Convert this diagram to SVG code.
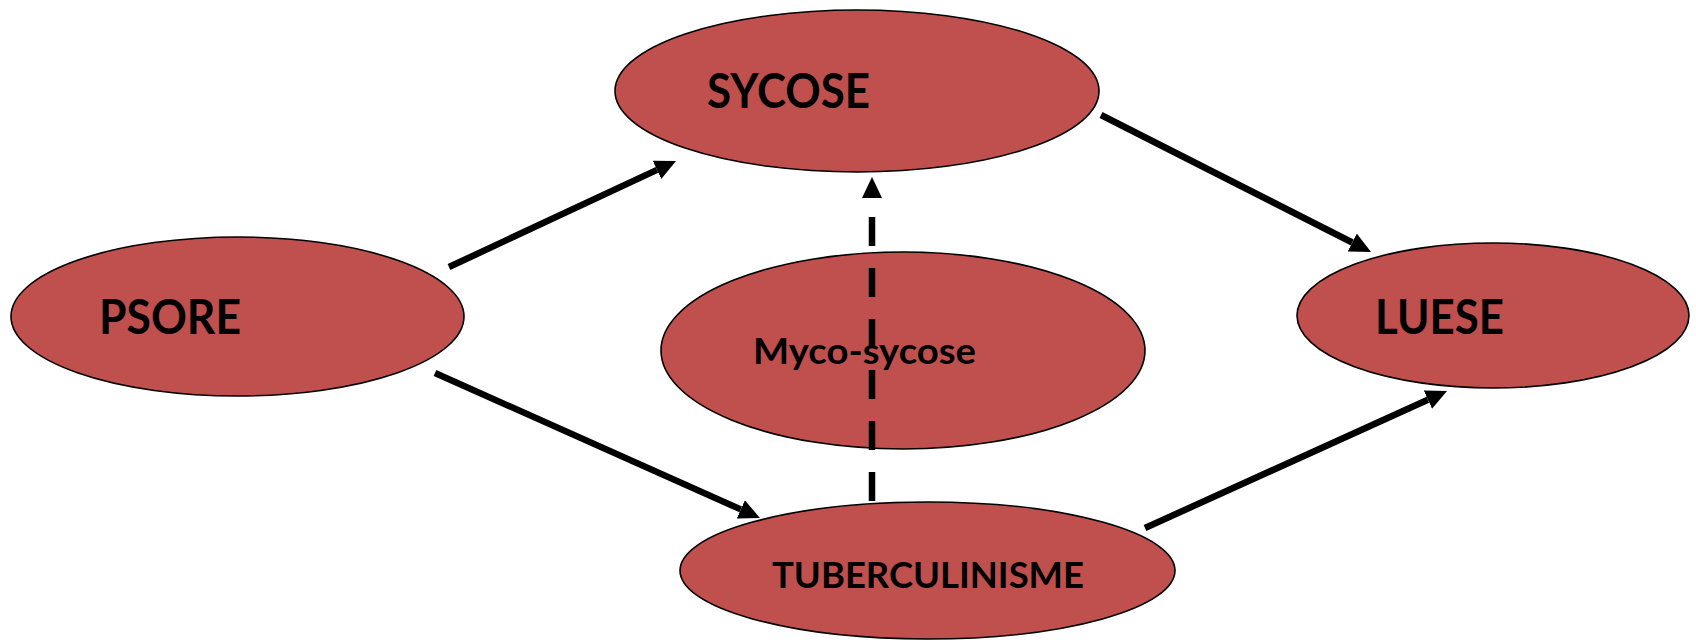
<svg xmlns="http://www.w3.org/2000/svg" width="1696" height="643" viewBox="0 0 1696 643">
<style>
.node ellipse{fill:#C0504D;stroke:#000;stroke-width:1.6}
.node text{font-family:Lato,"Open Sans","Liberation Sans",sans-serif;font-weight:bold;fill:#000}
.big{font-size:47px}
.small{font-size:36px}
.conn line{stroke:#000;stroke-width:6.5;fill:none}
.dash{stroke-dasharray:29 22}
</style>
<defs>
<marker id="ah" markerUnits="userSpaceOnUse" viewBox="0 0 21 20" markerWidth="21" markerHeight="20" refX="0" refY="10" orient="auto">
<path d="M0,0 L21,10 L0,20 z" fill="#000"/>
</marker>
</defs>
<rect width="1696" height="643" fill="#fff"/>
<g id="psore" class="node">
<ellipse cx="237.5" cy="316.5" rx="226.5" ry="79.5"/>
<text class="big" x="99" y="334" textLength="142" lengthAdjust="spacingAndGlyphs">PSORE</text>
</g>
<g id="sycose" class="node">
<ellipse cx="857" cy="91" rx="242" ry="81"/>
<text class="big" x="707" y="108" textLength="163" lengthAdjust="spacingAndGlyphs">SYCOSE</text>
</g>
<g id="myco-sycose" class="node">
<ellipse cx="903" cy="350.5" rx="242" ry="98.5"/>
<text class="small" x="753" y="364" textLength="223" lengthAdjust="spacingAndGlyphs">Myco-sycose</text>
</g>
<g id="luese" class="node">
<ellipse cx="1493" cy="315.5" rx="196" ry="72.5"/>
<text class="big" x="1375" y="334" textLength="129" lengthAdjust="spacingAndGlyphs">LUESE</text>
</g>
<g id="tuberculinisme" class="node">
<ellipse cx="927.5" cy="570.5" rx="247.5" ry="68.5"/>
<text class="small" x="772" y="588" textLength="312" lengthAdjust="spacingAndGlyphs">TUBERCULINISME</text>
</g>
<g id="connectors" class="conn">
<line x1="449" y1="267" x2="657" y2="169.9" marker-end="url(#ah)"/>
<line x1="1101" y1="115" x2="1352.3" y2="242.5" marker-end="url(#ah)"/>
<line x1="435" y1="373" x2="740.8" y2="509.4" marker-end="url(#ah)"/>
<line x1="1145" y1="528" x2="1427.9" y2="399.7" marker-end="url(#ah)"/>
<line class="dash" x1="872" y1="501" x2="872" y2="198" marker-end="url(#ah)"/>
</g>
</svg>
